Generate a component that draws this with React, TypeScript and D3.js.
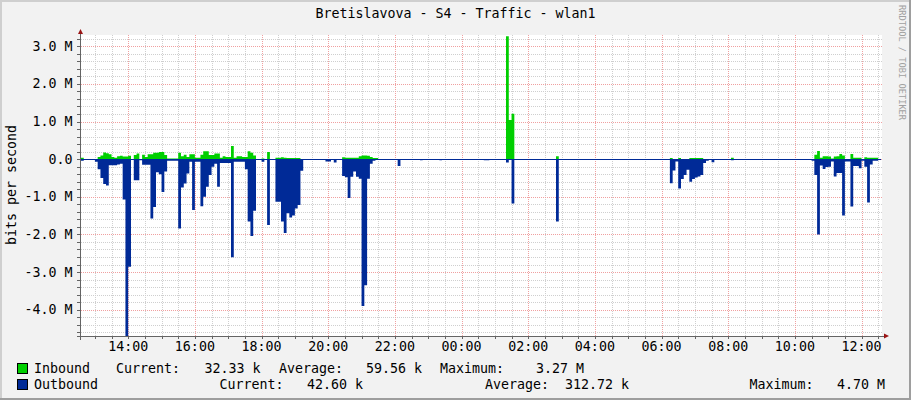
import * as d3 from "d3";

// rrd window: 24h of 5-minute samples, starting 12:35
const startTime = "12:35";
const dataEnd = "12:30";

// [step start, Mbit/s] - value holds until the next entry
const inboundSteps: [string, number][] = [
  ["12:35", 0.035], ["12:40", 0], ["13:05", 0.06], ["13:10", 0.1], ["13:15", 0.18], ["13:20", 0.16],
  ["13:25", 0.13], ["13:30", 0.06], ["13:35", 0.04], ["13:40", 0.08], ["13:45", 0.09], ["13:50", 0.07],
  ["14:00", 0.09], ["14:05", 0], ["14:10", 0.11], ["14:15", 0.15], ["14:20", 0], ["14:25", 0.12],
  ["14:30", 0.06], ["14:35", 0.13], ["14:45", 0.17], ["14:55", 0.19], ["15:05", 0.11], ["15:10", 0.02],
  ["15:30", 0.17], ["15:35", 0.08], ["15:40", 0.12], ["15:45", 0.06], ["15:50", 0.13], ["16:00", 0.04],
  ["16:10", 0.12], ["16:15", 0.21], ["16:25", 0.11], ["16:35", 0.15], ["16:45", 0.04], ["16:50", 0.08],
  ["16:55", 0.06], ["17:05", 0.35], ["17:10", 0.04], ["17:15", 0.08], ["17:25", 0.06], ["17:35", 0.21],
  ["17:40", 0.17], ["17:45", 0.1], ["17:50", 0], ["18:00", 0.02], ["18:05", 0], ["18:10", 0.19],
  ["18:15", 0], ["18:25", 0.035], ["18:35", 0.05], ["18:40", 0.04], ["18:45", 0.03], ["19:10", 0],
  ["20:25", 0.05], ["20:30", 0.035], ["20:55", 0.08], ["21:00", 0.1], ["21:10", 0.09], ["21:15", 0.06],
  ["21:20", 0.03], ["21:30", 0], ["01:20", 3.27], ["01:25", 1.04], ["01:30", 1.21], ["01:35", 0],
  ["02:50", 0.08], ["02:55", 0], ["06:15", 0.03], ["06:20", 0], ["06:30", 0.03], ["06:35", 0],
  ["06:50", 0.03], ["07:15", 0], ["08:05", 0.035], ["08:10", 0], ["10:35", 0.12], ["10:40", 0.22],
  ["10:45", 0.04], ["10:50", 0.08], ["11:00", 0.07], ["11:05", 0.02], ["11:10", 0.07], ["11:15", 0.08],
  ["11:20", 0.14], ["11:25", 0.1], ["11:30", 0], ["11:40", 0.14], ["11:45", 0.035], ["12:00", 0],
  ["12:05", 0.05], ["12:10", 0.035],
];

const outboundSteps: [string, number][] = [
  ["12:35", 0.04], ["12:40", 0], ["13:00", 0.07], ["13:05", 0.27], ["13:10", 0.5], ["13:15", 0.66],
  ["13:20", 0.7], ["13:25", 0.16], ["13:40", 0.14], ["13:45", 0.12], ["13:50", 1.07], ["13:55", 4.7],
  ["14:00", 2.86], ["14:05", 0.02], ["14:10", 0.56], ["14:20", 0.03], ["14:25", 0.15], ["14:40", 1.58],
  ["14:45", 1.27], ["14:50", 0.35], ["14:55", 0.4], ["15:00", 0.87], ["15:05", 0.33], ["15:10", 0.04],
  ["15:30", 1.84], ["15:35", 0.75], ["15:40", 0.65], ["15:45", 0.38], ["15:50", 0.07], ["15:55", 1.35],
  ["16:00", 0.07], ["16:10", 1.25], ["16:15", 1.0], ["16:20", 0.73], ["16:25", 0.42], ["16:30", 0.2],
  ["16:35", 0.12], ["16:40", 0.73], ["16:45", 0.1], ["17:05", 2.61], ["17:10", 0.07], ["17:30", 0.27],
  ["17:35", 1.66], ["17:40", 2.04], ["17:45", 1.37], ["17:50", 0], ["18:00", 0.07], ["18:05", 0],
  ["18:10", 1.75], ["18:15", 0], ["18:25", 1.13], ["18:35", 1.66], ["18:40", 1.96], ["18:45", 1.44],
  ["18:50", 1.55], ["18:55", 1.5], ["19:00", 1.31], ["19:05", 1.22], ["19:10", 0.31], ["19:15", 0],
  ["19:55", 0.06], ["20:05", 0], ["20:10", 0.09], ["20:15", 0], ["20:25", 0.45], ["20:30", 0.48],
  ["20:35", 1.03], ["20:40", 0.47], ["20:45", 0.33], ["20:50", 0.47], ["20:55", 0.52], ["21:00", 3.9],
  ["21:05", 3.35], ["21:10", 0.52], ["21:15", 0.12], ["21:20", 0.04], ["21:25", 0], ["22:05", 0.18],
  ["22:10", 0], ["22:45", 0.03], ["22:50", 0], ["23:20", 0.03], ["23:25", 0], ["00:40", 0.03],
  ["00:50", 0], ["01:20", 0.09], ["01:25", 0], ["01:30", 1.18], ["01:35", 0], ["02:50", 1.66],
  ["02:55", 0], ["06:15", 0.64], ["06:20", 0.3], ["06:25", 0.06], ["06:30", 0.78], ["06:35", 0.53],
  ["06:40", 0.42], ["06:45", 0.28], ["06:50", 0.6], ["06:55", 0.53], ["07:00", 0.49], ["07:05", 0.46],
  ["07:10", 0.42], ["07:15", 0.1], ["07:20", 0.04], ["07:25", 0], ["07:30", 0.08], ["07:35", 0],
  ["08:05", 0.03], ["08:10", 0], ["10:30", 0.04], ["10:35", 0.42], ["10:40", 2.0], ["10:45", 0.17],
  ["10:50", 0.26], ["10:55", 0.21], ["11:00", 0.2], ["11:05", 0.06], ["11:10", 0.46], ["11:15", 0.37],
  ["11:25", 1.5], ["11:30", 0.06], ["11:40", 1.26], ["11:45", 0.18], ["11:55", 0.24], ["12:00", 0.04],
  ["12:05", 0.2], ["12:10", 1.15], ["12:15", 0.14], ["12:20", 0.04],
];

const yMajorTicks = [-4, -3, -2, -1, 0, 1, 2, 3];
const yTickLabels = ["-4.0 M", "-3.0 M", "-2.0 M", "-1.0 M", "0.0", "1.0 M", "2.0 M", "3.0 M"];

const legendNames = ["Inbound", "Outbound"];
const legendCurrent = ["32.33 k", "42.60 k"];
const legendAverage = ["59.56 k", "312.72 k"];
const legendMaximum = ["3.27 M", "4.70 M"];
const seriesColors = ["#00CF00", "#002A97"];

const title = "Bretislavova - S4 - Traffic - wlan1";
const yTitle = "bits per second";
const watermark = "RRDTOOL / TOBI OETIKER";

const W = 911;
const H = 400;
const PLOT = { left: 81, right: 881, top: 35, bottom: 336 };
const FONT = "'DejaVu Sans Mono', monospace";
const AXIS = "#646464";

const day0 = new Date(2024, 0, 1);
const startMins = +startTime.slice(0, 2) * 60 + +startTime.slice(3);

function toDate(hhmm: string) {
  const [h, m] = hhmm.split(":").map(Number);
  const d = new Date(day0);
  d.setHours(h, m, 0, 0);
  if (h * 60 + m < startMins) d.setDate(d.getDate() + 1);
  return d;
}

type Pt = { t: Date; v: number };

function toPoints(steps: [string, number][]): Pt[] {
  const pts = steps.map(([t, v]) => ({ t: toDate(t), v }));
  pts.push({ t: toDate(dataEnd), v: steps[steps.length - 1][1] });
  return pts;
}

// legend column x positions (left edges)
const row1X = [34, 116, 204.5, 279, 366, 440, 536];
const row2X = [34, 219.5, 307, 485, 565, 749.5, 837];
const rowY = [373, 389];

export default function App() {
  const t0 = toDate(startTime);
  const t1 = new Date(+t0 + 24 * 3600 * 1000);

  const x = d3.scaleTime().domain([t0, t1]).range([PLOT.left, PLOT.right]);
  const y = d3.scaleLinear().domain([-4.7, 3.3]).range([PLOT.bottom, PLOT.top]);

  const px = (t: Date) => Math.round(x(t)) + 0.5;
  const py = (v: number) => Math.round(y(v)) + 0.5;

  const minorX = d3.timeMinute.every(30)!.range(t0, t1);
  const majorX = d3.timeHour.every(2)!.range(t0, t1);
  const minorY = d3.range(-23, 17).map((i) => +(i * 0.2).toFixed(1)).filter((v) => !Number.isInteger(v));

  const inArea = d3
    .area<Pt>()
    .x((d) => x(d.t))
    .y0(y(0))
    .y1((d) => y(d.v))
    .curve(d3.curveStepAfter);
  const outArea = d3
    .area<Pt>()
    .x((d) => x(d.t))
    .y0(y(0))
    .y1((d) => y(-d.v))
    .curve(d3.curveStepAfter);

  const inPts = toPoints(inboundSteps);
  const outPts = toPoints(outboundSteps);
  const fmt = d3.timeFormat("%H:%M");

  const legendRows = legendNames.map((name, i) => [
    name,
    "Current:",
    legendCurrent[i],
    "Average:",
    legendAverage[i],
    "Maximum:",
    legendMaximum[i],
  ]);

  return (
    <>
      <style>{"body{margin:0}"}</style>
      <svg width={W} height={H} style={{ display: "block" }} fontFamily={FONT}>
        {/* background + shaded frame */}
        <rect x={0} y={0} width={W} height={H} fill="#F2F2F2" />
        <rect x={0} y={0} width={W} height={2} fill="#CFCFCF" />
        <rect x={0} y={0} width={2} height={H} fill="#CFCFCF" />
        <rect x={W - 2} y={0} width={2} height={H} fill="#9E9E9E" />
        <rect x={0} y={H - 2} width={W} height={2} fill="#9E9E9E" />

        <rect x={PLOT.left} y={PLOT.top} width={PLOT.right - PLOT.left + 1} height={PLOT.bottom - PLOT.top} fill="#fff" />

        {/* grid */}
        <g shapeRendering="crispEdges" strokeDasharray="1,1" strokeWidth={1}>
          {minorX.map((t) => (
            <line key={"mx" + +t} x1={px(t)} x2={px(t)} y1={PLOT.top} y2={PLOT.bottom} stroke="#CFCFCF" />
          ))}
          {minorY.map((v) => (
            <line key={"my" + v} x1={PLOT.left} x2={PLOT.right + 1} y1={py(v)} y2={py(v)} stroke="#CFCFCF" />
          ))}
          {majorX.map((t) => (
            <line key={"Mx" + +t} x1={px(t)} x2={px(t)} y1={PLOT.top} y2={PLOT.bottom} stroke="#F0A0A0" />
          ))}
          {yMajorTicks.map((v) => (
            <line key={"My" + v} x1={PLOT.left} x2={PLOT.right + 1} y1={py(v)} y2={py(v)} stroke="#F0A0A0" />
          ))}
        </g>

        {/* data */}
        <path d={inArea(inPts) || ""} fill={seriesColors[0]} />
        <path d={outArea(outPts) || ""} fill={seriesColors[1]} />
        <line
          x1={PLOT.left}
          x2={PLOT.right}
          y1={py(0)}
          y2={py(0)}
          stroke={seriesColors[1]}
          shapeRendering="crispEdges"
        />

        {/* axes */}
        <g stroke={AXIS} shapeRendering="crispEdges">
          <line x1={80.5} x2={80.5} y1={PLOT.top - 2} y2={PLOT.bottom + 4} />
          <line x1={77} x2={885} y1={PLOT.bottom + 0.5} y2={PLOT.bottom + 0.5} />
          {minorX.map((t) => (
            <line key={"tx" + +t} x1={px(t)} x2={px(t)} y1={PLOT.bottom} y2={PLOT.bottom + 3} />
          ))}
          {minorY.concat(yMajorTicks).map((v) => (
            <line key={"ty" + v} x1={77} x2={80} y1={py(v)} y2={py(v)} />
          ))}
        </g>
        <polygon points="78,34 83,34 80.5,29" fill="#9A1414" />
        <polygon points="884,333.5 884,338.5 889,336" fill="#9A1414" />

        {/* tick labels */}
        {yMajorTicks.map((v, i) => (
          <text key={"yl" + v} x={72.5} y={y(v) + 4.5} textAnchor="end" fontSize={13.3} fill="#000">
            {yTickLabels[i]}
          </text>
        ))}
        {majorX.map((t) => (
          <text key={"xl" + +t} x={x(t)} y={351} textAnchor="middle" fontSize={13.3} fill="#000">
            {fmt(t)}
          </text>
        ))}

        {/* titles */}
        <text x={455.5} y={18} textAnchor="middle" fontSize={13.3} fill="#000">
          {title}
        </text>
        <text transform="translate(16,185) rotate(-90)" textAnchor="middle" fontSize={13.3} fill="#000">
          {yTitle}
        </text>
        <text transform="translate(899,5) rotate(90)" fontSize={8.7} fill="#A0A0A0">
          {watermark}
        </text>

        {/* legend */}
        {legendRows.map((cells, r) => (
          <g key={"lg" + r}>
            <rect x={17.5} y={rowY[r] - 9.5} width={10} height={10} fill={seriesColors[r]} stroke="#000" />
            {cells.map((c, j) => (
              <text
                key={j}
                x={(r === 0 ? row1X : row2X)[j]}
                y={rowY[r]}
                fontSize={13.3}
                fill="#000"
                style={{ whiteSpace: "pre" }}
              >
                {c}
              </text>
            ))}
          </g>
        ))}
      </svg>
    </>
  );
}
